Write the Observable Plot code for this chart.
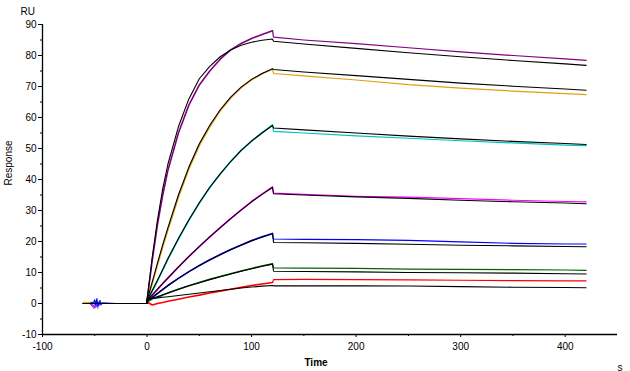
<!DOCTYPE html>
<html>
<head>
<meta charset="utf-8">
<script src="https://cdn.jsdelivr.net/npm/d3@7"></script>
<script src="https://cdn.jsdelivr.net/npm/@observablehq/plot@0.6"></script>
<style>
  html, body { margin: 0; padding: 0; background: #fff; }
  #chart { width: 630px; height: 371px; }
</style>
</head>
<body>
<div id="chart"></div>
<script>
// ---- time grids (s) ----
const tBase  = [-61, -55, -53, -51, -50, -49, -48, -47, -46, -45, -44, -43, -30, 0];
const tAssoc = [0, 5, 10, 15, 20, 30, 40, 50, 60, 70, 80, 90, 100, 110, 120];
const tDiss  = [121, 150, 200, 250, 300, 350, 400, 420];
const tFitBase = [-61, 0];

// ---- series names / colours ----
const seriesNames  = ["s1", "s2", "s3", "s4", "s5", "s6", "s7"];
const seriesColors = ["#800080", "#e0a010", "#00c0c0", "#ff00ff", "#0000ff", "#006400", "#ff0000"];

// ---- measured responses (RU) ----
const baseS1 = [0, 0.2, -0.5, -1.3, 0.3, -1.0, -0.6, 0.2, 0, -0.4, 0, 0, 0, 0];
const baseS2 = [0.4, 0.3, 0.4, 0.2, 0.5, 0.3, 0, 0.2, 0.1, 0.3, 0, 0, 0, 0];
const baseS3 = [0, 0, 0.3, -1.5, 0.6, -1.2, 0.5, -1.6, 0.2, 0.5, -0.4, 0, 0, 0];
const baseS4 = [0, 0, -0.3, -0.8, -1.5, -0.5, -1.0, 0.3, 0, -0.6, 0, 0, 0, 0];
const baseS5 = [0, 0, 0.2, 0.5, 1.2, -0.5, 1.6, -0.8, 0.4, 1.0, -0.3, 0.2, 0, 0];
const baseS6 = [0, 0, 0, 0, 0, 0, 0, 0, 0, 0, 0, 0, 0, 0];
const baseS7 = [0, 0, 0, 0, 0, 0, 0, 0, 0, 0, 0, 0, 0, 0];

const assocS1 = [1, 14, 25.5, 35, 43, 55, 64, 70.5, 75, 78.8, 81.8, 83.9, 85.5, 86.8, 88];
const assocS2 = [0.5, 6.5, 12.5, 18.3, 23.8, 34.3, 43.4, 51, 57, 62.2, 66.3, 69.6, 72.2, 74.1, 75.6];
const assocS3 = [0.5, 4, 7.3, 10.8, 14.3, 20.8, 26.8, 32.4, 37.4, 41.8, 45.8, 49.4, 52.4, 55.1, 57.6];
const assocS4 = [0.5, 2.6, 4.5, 6.4, 8.2, 11.7, 15.1, 18.3, 21.5, 24.5, 27.4, 30.2, 32.9, 35.3, 37.6];
const assocS5 = [0.5, 1.9, 3.2, 4.5, 5.8, 8.1, 10.3, 12.3, 14.1, 15.8, 17.4, 18.9, 20.3, 21.5, 22.6];
const assocS6 = [0.5, 1.5, 2.1, 2.7, 3.4, 4.6, 5.7, 6.8, 7.8, 8.7, 9.6, 10.5, 11.3, 12.1, 12.8];
const assocS7 = [0.5, -0.5, 0, 0.3, 0.7, 1.4, 2.1, 2.7, 3.4, 4.0, 4.6, 5.2, 5.8, 6.3, 6.8];

const dissS1 = [85.9, 85.0, 83.8, 82.5, 81.2, 80.0, 78.9, 78.4];
const dissS2 = [74.2, 73.4, 72.1, 70.6, 69.5, 68.5, 67.7, 67.4];
const dissS3 = [55.5, 55.0, 54.1, 53.3, 52.5, 51.8, 51.1, 50.9];
const dissS4 = [35.6, 35.2, 34.6, 34.3, 33.8, 33.3, 32.9, 32.8];
const dissS5 = [20.8, 20.7, 20.6, 20.35, 19.9, 19.4, 19.2, 19.2];
const dissS6 = [11.5, 11.4, 11.3, 11.1, 11.0, 10.9, 10.8, 10.7];
const dissS7 = [7.7, 7.8, 7.7, 7.6, 7.5, 7.4, 7.3, 7.3];

// ---- fitted curves (RU) ----
const fitBase = [0, 0];
const fitAssocS1 = [1, 15, 27, 37, 45, 57, 66, 72.5, 76.5, 79.6, 81.8, 83.3, 84.3, 84.9, 85.3];
const fitAssocS2 = [1, 7, 13, 19, 24.5, 35, 44, 51.5, 57.5, 62.5, 66.6, 69.8, 72.3, 74.2, 75.7];
const fitAssocS3 = [1, 4.2, 7.5, 11, 14.5, 21, 27, 32.5, 37.5, 41.8, 45.8, 49.4, 52.4, 55, 57.4];
const fitAssocS4 = [1, 2.8, 4.6, 6.5, 8.3, 11.8, 15.2, 18.4, 21.5, 24.5, 27.4, 30.1, 32.8, 35.2, 37.4];
const fitAssocS5 = [1, 2, 3.3, 4.6, 5.8, 8.1, 10.2, 12.2, 14, 15.7, 17.3, 18.8, 20.2, 21.4, 22.5];
const fitAssocS6 = [1, 1.6, 2.2, 2.8, 3.4, 4.6, 5.7, 6.7, 7.7, 8.6, 9.5, 10.4, 11.2, 12.0, 12.7];
const fitAssocS7 = [1.4, 1.6, 1.8, 2.0, 2.2, 2.6, 3.0, 3.4, 3.8, 4.2, 4.6, 5.0, 5.3, 5.6, 5.8];

const fitDissS1 = [84.6, 83.7, 82.3, 80.9, 79.6, 78.4, 77.3, 76.8];
const fitDissS2 = [75.5, 74.7, 73.5, 72.3, 71.1, 70.1, 69.2, 68.8];
const fitDissS3 = [56.6, 56.0, 55.0, 54.0, 53.1, 52.3, 51.6, 51.3];
const fitDissS4 = [35.4, 35.0, 34.4, 33.9, 33.3, 32.8, 32.4, 32.2];
const fitDissS5 = [19.7, 19.6, 19.4, 19.1, 18.8, 18.6, 18.4, 18.3];
const fitDissS6 = [10.4, 10.3, 10.2, 10.0, 9.9, 9.8, 9.6, 9.5];
const fitDissS7 = [5.7, 5.7, 5.7, 5.65, 5.45, 5.25, 5.15, 5.1];

// ---- axis ticks ----
const xTicks = [-100, 0, 100, 200, 300, 400];
const xMinor = [-50, 50, 150, 250, 350];
const yTicks = [-10, 0, 10, 20, 30, 40, 50, 60, 70, 80, 90];
const yMinor = [-5, 5, 15, 25, 35, 45, 55, 65, 75, 85];

// ---- build tables ----
const dataBase  = [baseS1, baseS2, baseS3, baseS4, baseS5, baseS6, baseS7];
const dataAssoc = [assocS1, assocS2, assocS3, assocS4, assocS5, assocS6, assocS7];
const dataDiss  = [dissS1, dissS2, dissS3, dissS4, dissS5, dissS6, dissS7];
const fitAssoc  = [fitAssocS1, fitAssocS2, fitAssocS3, fitAssocS4, fitAssocS5, fitAssocS6, fitAssocS7];
const fitDiss   = [fitDissS1, fitDissS2, fitDissS3, fitDissS4, fitDissS5, fitDissS6, fitDissS7];

const measuredBase = [];
const measuredAssoc = [];
const measuredDiss = [];
const fitted = [];
seriesNames.forEach((name, i) => {
  tBase.forEach((t, j) => measuredBase.push({name, t, v: dataBase[i][j]}));
  tAssoc.forEach((t, j) => measuredAssoc.push({name, t, v: dataAssoc[i][j]}));
  const lastT = tAssoc[tAssoc.length - 1];
  measuredDiss.push({name, t: lastT, v: dataAssoc[i][tAssoc.length - 1]});
  tDiss.forEach((t, j) => measuredDiss.push({name, t, v: dataDiss[i][j]}));
  const ft = [...tFitBase, ...tAssoc, ...tDiss];
  const fv = [...fitBase, ...fitAssoc[i], ...fitDiss[i]];
  ft.forEach((t, j) => fitted.push({name, t, v: fv[j]}));
});

const fmt = d => String(d);

const chart = Plot.plot({
  width: 630,
  height: 371,
  marginLeft: 42,
  marginRight: 13,
  marginTop: 24,
  marginBottom: 37,
  style: {fontFamily: "'Liberation Sans', Arial, sans-serif", fontSize: "10px", background: "#fff", color: "#000"},
  x: {domain: [-100, 450]},
  y: {domain: [-10, 90]},
  color: {domain: seriesNames, range: seriesColors},
  marks: [
    Plot.line(measuredBase, {x: "t", y: "v", z: "name", stroke: "name", strokeWidth: 1.1}),
    Plot.line(measuredAssoc, {x: "t", y: "v", z: "name", stroke: "name", strokeWidth: 1.6}),
    Plot.line(measuredDiss, {x: "t", y: "v", z: "name", stroke: "name", strokeWidth: 1.2}),
    Plot.line(fitted, {x: "t", y: "v", z: "name", stroke: "#000", strokeWidth: 1.1}),
    Plot.ruleY([-10], {stroke: "#000", strokeWidth: 1.3}),
    Plot.ruleX([-100], {stroke: "#000", strokeWidth: 1.3}),
    Plot.axisX({ticks: xTicks, tickSize: 3, tickPadding: 5.5, tickFormat: fmt, label: null}),
    Plot.axisX({ticks: xMinor, tickSize: 2, tickFormat: () => "", label: null}),
    Plot.axisY({ticks: yTicks, tickSize: 4, tickPadding: 2, tickFormat: fmt, label: null}),
    Plot.axisY({ticks: yMinor, tickSize: 2, tickFormat: () => "", label: null}),
    Plot.text(["RU"], {frameAnchor: "top-left", dx: -22, dy: -17, fontSize: 10}),
    Plot.text(["Response"], {frameAnchor: "left", dx: -34, dy: 6, rotate: -90, fontSize: 10}),
    Plot.text(["Time"], {frameAnchor: "bottom", dx: -14, dy: 31, fontSize: 10, fontWeight: "bold"}),
    Plot.text(["s"], {frameAnchor: "bottom-right", dx: 5, dy: 36, fontSize: 10})
  ]
});
document.getElementById("chart").appendChild(chart);
</script>
</body>
</html>
